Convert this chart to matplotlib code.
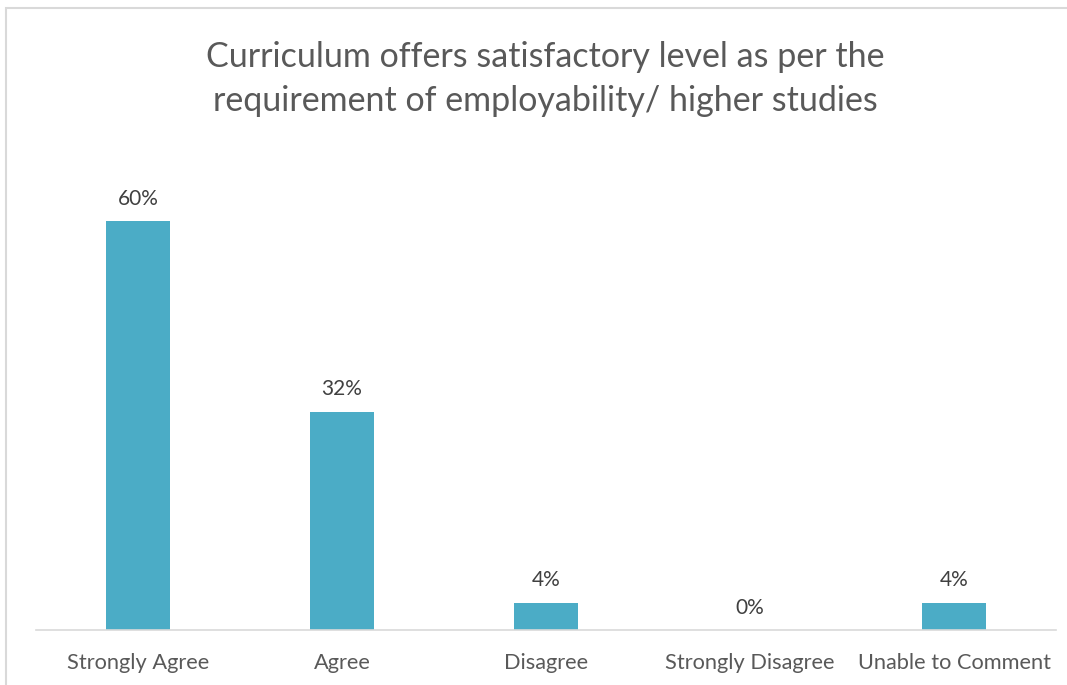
import matplotlib
matplotlib.use("Agg")
import matplotlib.pyplot as plt
from matplotlib.patches import Rectangle

categories = ["Strongly Agree", "Agree", "Disagree", "Strongly Disagree", "Unable to Comment"]
values = [60, 32, 4, 0, 4]
labels = ["60%", "32%", "4%", "0%", "4%"]
title = "Curriculum offers satisfactory level as per the\nrequirement of employability/ higher studies"

W, H = 1067, 685
plt.rcParams['font.family'] = ['Lato', 'DejaVu Sans']
fig = plt.figure(figsize=(W/100, H/100), dpi=100)
fig.patch.set_facecolor("white")

# chart border
fig.patches.append(Rectangle((6/W, -0.1), 1.2, (H-8)/H + 0.1, transform=fig.transFigure,
                             fill=False, edgecolor="#D9D9D9", linewidth=1.5))

left, right, bottom = 36, 1056, 630
top = 153
ax = fig.add_axes([left/W, (H-bottom)/H, (right-left)/W, (bottom-top)/H])
x = list(range(len(categories)))
ax.bar(x, values, width=0.31, color="#4BACC6")
ax.set_xlim(-0.5, len(categories)-0.5)
ax.set_ylim(0, 70)
for xi, v, lab in zip(x, values, labels):
    ax.annotate(lab, (xi, v), xytext=(0, 9), textcoords="offset points",
                ha="center", va="bottom", fontsize=15, color="#404040")
ax.set_xticks(x)
ax.set_xticklabels(categories, fontsize=15.7, color="#595959")
ax.tick_params(axis="x", length=0, pad=16.5)
ax.set_yticks([])
for s in ["top", "right", "left"]:
    ax.spines[s].set_visible(False)
ax.spines["bottom"].set_color("#D9D9D9")
ax.spines["bottom"].set_linewidth(1.2)
ax.patch.set_alpha(0)

fig.text(545/W, 1 - 79/H, title, ha="center", va="center", fontsize=24.5,
         color="#595959", linespacing=1.45)

fig.savefig("out.png", dpi=100)
